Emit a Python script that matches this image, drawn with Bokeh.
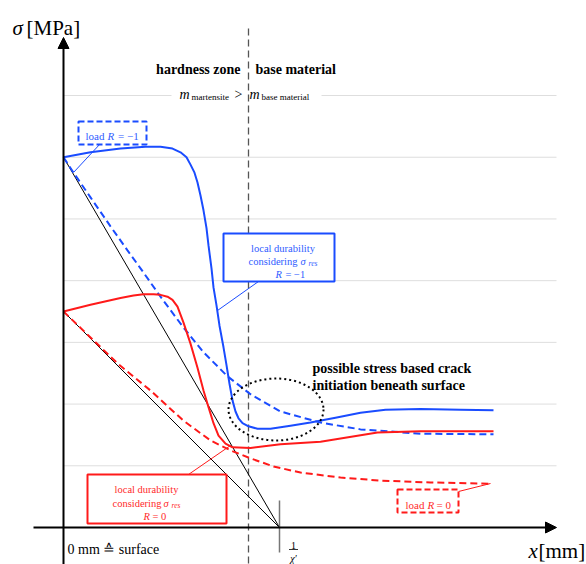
from bokeh.plotting import figure
from bokeh.models import Range1d, Arrow, NormalHead
from bokeh.core.properties import value
from bokeh.embed import file_html
from bokeh.resources import INLINE

# ---------------- data (x in mm, y in MPa; schematic) ----------------
inv_chi = 2.16          # position of 1/chi'
x_boundary = 1.85       # hardness zone / base material boundary
grid_levels = [100, 200, 300, 400, 500, 600, 700]
x_grid_end = 4.93

blue_dur_x = [0, .27, .57, .82, .97, 1.09, 1.17, 1.23, 1.27, 1.31, 1.34, 1.37, 1.40, 1.43, 1.45,
              1.48, 1.50, 1.53, 1.56, 1.60, 1.63, 1.66, 1.69, 1.72, 1.75, 1.79, 1.85, 1.94, 2.07,
              2.27, 2.47, 2.72, 2.97, 3.22, 3.57, 3.97, 4.30]
blue_dur_y = [600, 608, 614, 617, 617, 614, 608, 600, 588, 575, 559, 538, 514, 485, 457,
              420, 389, 360, 327, 292, 263, 233, 206, 188, 177, 169, 164, 160, 160,
              165, 170, 178, 186, 191, 192, 191, 190]

blue_load_x = [0, .10, .27, .47, .64, .77, .97, 1.20, 1.40, 1.64, 1.87, 2.17, 2.57, 2.97, 3.57, 4.30]
blue_load_y = [600, 575, 535, 488, 449, 420, 374, 324, 284, 245, 216, 188, 170, 159, 152, 151]

red_dur_x = [0, .27, .57, .70, .80, .90, .97, 1.04, 1.09, 1.14, 1.20, 1.27, 1.34, 1.40, 1.45,
             1.50, 1.55, 1.62, 1.69, 1.87, 2.17, 2.57, 3.14, 3.57, 4.30]
red_dur_y = [350, 361, 372, 376, 378, 378, 377, 374, 369, 358, 332, 298, 259, 222, 195,
             169, 149, 136, 130, 129, 135, 139, 154, 156, 156]

red_load_x = [0, .27, .54, .87, 1.20, 1.47, 1.67, 1.87, 2.10, 2.37, 2.77, 3.17, 3.67, 4.27]
red_load_y = [350, 308, 266, 222, 173, 141, 125, 112, 99, 89, 81, 76, 73, 71]

BLUE = "#1a4cff"
RED = "#ff1a1a"
BLUE_T = "#2f5cff"
RED_T = "#ff2a2a"
FONT = value("Liberation Serif")

# pixel helpers for annotation layout (page pixels)
def X(px):
    return (px - 63) / 100.0

def Y(py):
    return (527 - py) / 0.6171

p = figure(width=586, height=564, x_range=Range1d(X(0), X(586)), y_range=Range1d(Y(564), Y(0)),
           min_border=0, toolbar_location=None, output_backend="svg",
           x_axis_type=None, y_axis_type=None)
p.outline_line_color = None

# grid lines
for g in grid_levels:
    if g == 700:
        p.line([0, X(171)], [g, g], color="#dedede", line_width=1)
        p.line([X(321), x_grid_end], [g, g], color="#dedede", line_width=1)
    else:
        p.line([0, x_grid_end], [g, g], color="#dedede", line_width=1)

# boundary dashed line
p.line([x_boundary, x_boundary], [Y(28), Y(570)], color="#555555", line_width=1.3, line_dash="7 4")

# tangent lines
p.line([0, inv_chi], [blue_load_y[0], 0], color="black", line_width=1)
p.line([0, inv_chi], [red_load_y[0], 0], color="black", line_width=1)

# 1/chi' tick
p.line([inv_chi, inv_chi], [Y(500), Y(552)], color="#777777", line_width=1.5)

# curves
p.line(red_load_x, red_load_y, color=RED, line_width=2, line_dash="7 4")
p.line(blue_load_x, blue_load_y, color=BLUE, line_width=2, line_dash="7 4")
p.line(red_dur_x, red_dur_y, color=RED, line_width=2)
p.line(blue_dur_x, blue_dur_y, color=BLUE, line_width=2)

# dotted ellipse
p.ellipse(x=[X(275.5)], y=[Y(409)], width=[0.95], height=[62 / 0.6171],
          fill_color=None, line_color="black", line_width=2, line_dash="2 3")

# axes with arrows
p.add_layout(Arrow(end=NormalHead(size=11, fill_color="black", line_color="black"),
                   x_start=X(63), y_start=Y(570), x_end=X(63), y_end=Y(37),
                   line_width=2, line_color="black"))
p.add_layout(Arrow(end=NormalHead(size=11, fill_color="black", line_color="black"),
                   x_start=X(33), y_start=0, x_end=X(556), y_end=0,
                   line_width=2, line_color="black"))

# boxes
def box(l, t, r, b, color, dash="solid"):
    p.quad(left=[X(l)], right=[X(r)], top=[Y(t)], bottom=[Y(b)], fill_color="white",
           line_color=color, line_width=2, line_dash=dash)

def seg(x0, y0, x1, y1, color, w=1):
    p.line([X(x0), X(x1)], [Y(y0), Y(y1)], color=color, line_width=w)

seg(100, 143, 73, 172, BLUE)
seg(258, 281, 217, 310, BLUE)
seg(188, 474, 230, 445, RED)
seg(458, 491, 490, 483, RED)

box(78, 121, 146, 144, BLUE, "6 3")
box(223, 233, 334, 281, BLUE)
box(87, 474, 226, 523, RED)
box(397, 489, 458, 512, RED, "6 3")

def txt(px, py, s, size, style="normal", color="black", align="left"):
    p.text(x=[X(px)], y=[Y(py)], text=[s], text_font=FONT, text_font_size=f"{size}px",
           text_font_style=style, text_color=color, text_align=align, text_baseline="alphabetic")

# axis labels
txt(12, 27, "σ", 21, "italic")
txt(26, 27, "[MPa]", 21)
txt(528, 550, "x", 21, "italic")
txt(538, 550, "[mm]", 21)
txt(67, 549, "0 mm ≙ surface", 14)
txt(293, 545, "1", 10, align="center")
seg(288.5, 549, 297.5, 549, "black", 0.8)
txt(293, 558, "χ′", 10, "italic", align="center")

# zone headings
txt(240, 69, "hardness zone", 14, "bold", align="right")
txt(255, 69, "base material", 14, "bold")
txt(179, 94, "m", 14, "italic")
txt(191, 96, "martensite", 9)
txt(234, 94, ">", 14)
txt(249, 94, "m", 14, "italic")
txt(261, 96, "base material", 9)

# load R = -1
txt(85, 135, "load", 11, color=BLUE_T)
txt(107, 135, "R", 11, "italic", color=BLUE_T)
txt(117.5, 135, "= −1", 11, color=BLUE_T)

# local durability R = -1
txt(282.5, 248, "local durability", 10.5, color=BLUE_T, align="center")
txt(248, 261, "considering", 10.5, color=BLUE_T)
txt(300, 261, "σ", 10.5, "italic", color=BLUE_T)
txt(308, 263, "res", 7.5, "italic", color=BLUE_T)
txt(275, 274, "R", 10.5, "italic", color=BLUE_T)
txt(285, 274, "= −1", 10.5, color=BLUE_T)

# crack initiation note
txt(312, 368, "possible stress based crack", 14, "bold")
txt(312, 385, "initiation beneath surface", 14, "bold")

# local durability R = 0
txt(146, 489, "local durability", 10.5, color=RED_T, align="center")
txt(112, 503, "considering", 10.5, color=RED_T)
txt(163, 503, "σ", 10.5, "italic", color=RED_T)
txt(171, 505, "res", 7.5, "italic", color=RED_T)
txt(143, 516, "R", 10.5, "italic", color=RED_T)
txt(152, 516, "= 0", 10.5, color=RED_T)

# load R = 0
txt(405, 504, "load", 11, color=RED_T)
txt(427, 504, "R", 11, "italic", color=RED_T)
txt(436, 504, "= 0", 11, color=RED_T)

open("out.html", "w").write(file_html(p, INLINE))
